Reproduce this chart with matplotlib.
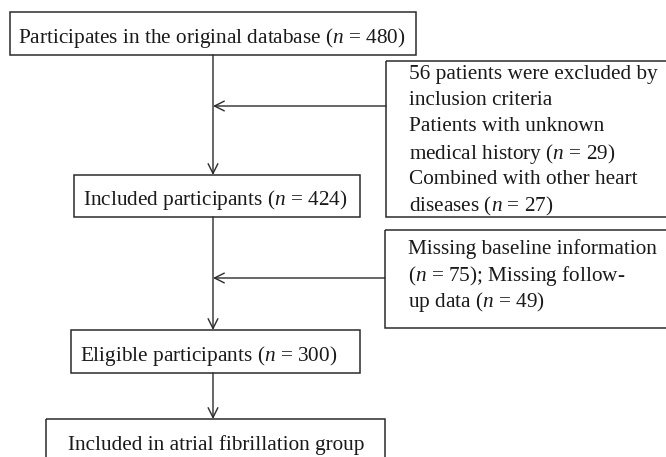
import matplotlib.pyplot as plt
from matplotlib.patches import Rectangle

plt.rcParams["font.family"] = ["Liberation Serif", "DejaVu Serif"]
plt.rcParams["mathtext.fontset"] = "custom"
plt.rcParams["mathtext.rm"] = "Liberation Serif"
plt.rcParams["mathtext.it"] = "Liberation Serif:italic"

# ── Counts ────────────────────────────────────────────────────────────────────
n_original = 480
n_excl_unknown = 29
n_excl_heart = 27
n_included = 424
n_missing_baseline = 75
n_missing_followup = 49
n_eligible = 300

main_labels = [
    f"Participates in the original database ($n$ = {n_original})",
    f"Included participants ($n$ = {n_included})",
    f"Eligible participants ($n$ = {n_eligible})",
    "Included in atrial fibrillation group",
]
side_labels = [
    [f"{n_excl_unknown + n_excl_heart} patients were excluded by",
     "inclusion criteria",
     "Patients with unknown",
     f"medical history ($n$ = {n_excl_unknown})",
     "Combined with other heart",
     f"diseases ($n$ = {n_excl_heart})"],
    ["Missing baseline information",
     f"($n$ = {n_missing_baseline}); Missing follow-",
     f"up data ($n$ = {n_missing_followup})"],
]

# ── Layout (pixel coords, y down) ─────────────────────────────────────────────
main_boxes = [(10, 12, 416, 55), (74, 175, 360, 217), (71, 330, 360, 373), (46, 419, 385, 470)]
side_boxes = [(386, 61, 680, 217), (385, 230, 680, 328)]
main_text_pos = [(18, 34), (83, 197), (80, 352), (68, 443)]
side_text_pos = [(409, 72, 26.2), (408, 247, 25.5)]
spine_x = 213
side_arrow_y = [106, 278]

fig = plt.figure(figsize=(6.66, 4.57), dpi=100)
ax = fig.add_axes([0, 0, 1, 1])
ax.set_xlim(0, 666)
ax.set_ylim(457, 0)
ax.axis("off")

col = "#2b2b2b"
fs = 15.3

for (x0, y0, x1, y1) in main_boxes + side_boxes:
    ax.add_patch(Rectangle((x0, y0), x1 - x0, y1 - y0, fill=False,
                           ec=col, lw=1.1, clip_on=True))

for (x, y), s in zip(main_text_pos, main_labels):
    ax.text(x, y, s, fontsize=fs, ha="left", va="center_baseline", color="#1a1a1a")

for (x, y, dy), lines in zip(side_text_pos, side_labels):
    for i, s in enumerate(lines):
        ax.text(x, y + i * dy, s, fontsize=fs, ha="left", va="center_baseline",
                color="#1a1a1a")

arrow = dict(arrowstyle="->,head_length=0.7,head_width=0.35", color=col, lw=1.0,
             shrinkA=0, shrinkB=0)
# vertical flow
for i in range(3):
    ax.annotate("", xy=(spine_x, main_boxes[i + 1][1]), xytext=(spine_x, main_boxes[i][3]),
                arrowprops=arrow)
# side exclusions
for (x0, y0, x1, y1), ya in zip(side_boxes, side_arrow_y):
    ax.annotate("", xy=(spine_x, ya), xytext=(x0, ya), arrowprops=arrow)

fig.savefig("out.png", dpi=100)
